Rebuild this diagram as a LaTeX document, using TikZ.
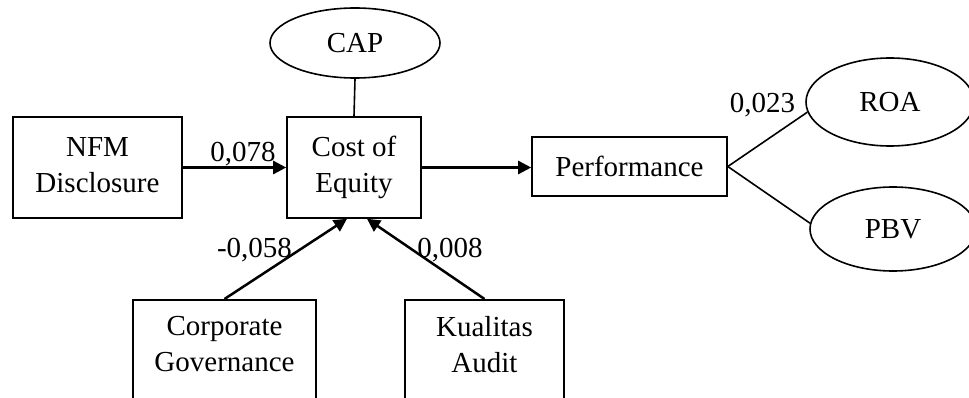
\documentclass[tikz,border=0pt]{standalone}
\usepackage{fontspec}
\setmainfont{Liberation Serif}
\usetikzlibrary{arrows.meta,shapes.geometric,calc}
\begin{document}
\begin{tikzpicture}[x=1pt,y=-1pt,
  every node/.style={font=\fontsize{29}{36}\selectfont},
  box/.style={draw, line width=1.6pt, rectangle, inner sep=0pt, align=center},
  oval/.style={draw, line width=1.6pt, ellipse, inner sep=0pt},
  arr/.style={line width=2.5pt, -{Triangle[length=13pt,width=13pt]}},
  ln/.style={line width=1.6pt},
  val/.style={anchor=base, inner sep=0pt},
  lbl/.style={anchor=north, inner sep=0pt, align=center}]
\useasboundingbox (0,0) rectangle (969,398);
\clip (0,0) rectangle (969,398);
\node[box, minimum width=169pt, minimum height=101pt] (nfm) at (97.5,167.5) {NFM\\Disclosure\rule[-4pt]{0pt}{4pt}};
\node[box, minimum width=134pt, minimum height=101pt] (coe) at (354,167.5) {Cost of\\Equity};
\node[box, minimum width=195pt, minimum height=59pt] (perf) at (629.5,166.5) {Performance};
\node[oval, minimum width=170pt, minimum height=70pt] (cap) at (355,43) {CAP};
\node[oval, minimum width=168pt, minimum height=88pt] (roa) at (890,102) {ROA};
\node[oval, minimum width=166pt, minimum height=84pt] (pbv) at (893,229) {PBV};
\node[box, anchor=north, minimum width=183pt, minimum height=140pt] (cg) at (224.5,299) {};
\node[lbl] (cgt) at (224.5,316) {Corporate\\Governance};
\node[box, anchor=north, minimum width=159pt, minimum height=140pt] (ka) at (484.5,299) {};
\node[lbl] (kat) at (484.5,316) {Kualitas\\Audit};
\draw[arr] (nfm.east) -- (coe.west);
\draw[arr] (coe.east) -- (coe.east -| perf.west);
\draw[ln] (cap.south) -- (coe.north);
\draw[arr] (cg.north) -- ($(coe.south)+(-7,0)$);
\draw[arr] (ka.north) -- ($(coe.south)+(13,0)$);
\draw[ln] (perf.east) -- (roa.187);
\draw[ln] (perf.east) -- (pbv.176);
\node[val] (l1) at (243,162) {0,078};
\node[val] (l2) at (254.5,257) {-0,058};
\node[val] (l3) at (450,257) {0,008};
\node[val] (l4) at (762.5,113) {0,023};
\end{tikzpicture}
\end{document}
